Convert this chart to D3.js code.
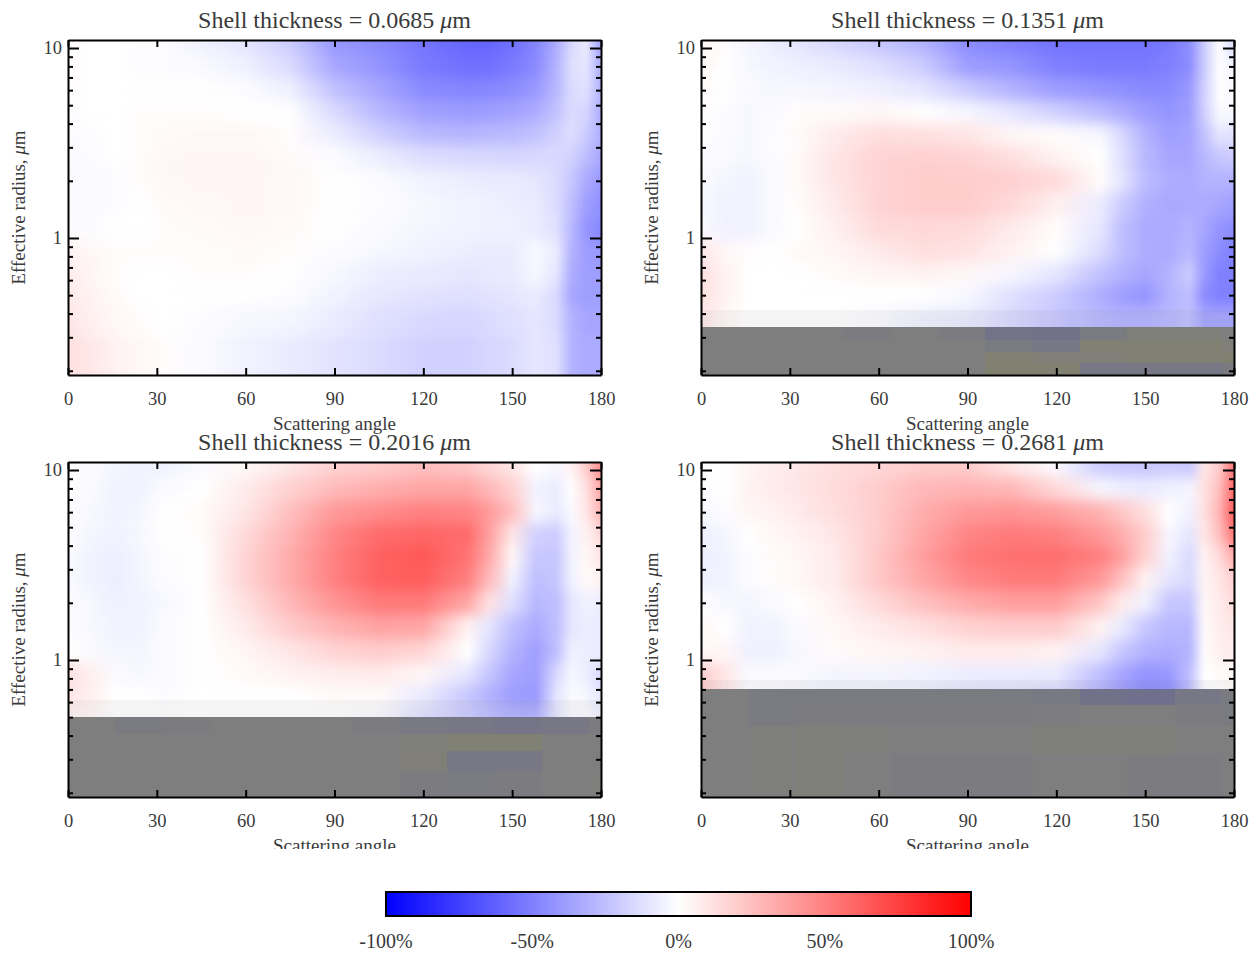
<!DOCTYPE html>
<html lang="en">
<head>
<meta charset="UTF-8">
<title>Shell thickness panels</title>
<style>
    html, body { margin: 0; padding: 0; background: #fff; }
    svg { display: block; }
    text { font-family: "Liberation Serif", serif; fill: #3a3a3a; }
    .axis path, .axis line { stroke: #000; stroke-width: 2px; }
</style>
</head>
<body>
<svg width="1258" height="953"></svg>
<script src="https://d3js.org/d3.v7.min.js"></script>
<script>
// scattering angle of each column, effective radius of each row
const angles = [0, 8, 16, 24, 32, 45, 60, 75, 90, 105, 120, 135, 142, 150, 158, 165, 170, 175, 180];
const radii = [10.5, 8, 6, 4.6, 3.5, 2.7, 2, 1.5, 1.1, 0.85, 0.65, 0.5, 0.38, 0.25];
const thickness = ['0.0685', '0.1351', '0.2016', '0.2681'];

// relative difference, one line per radius
const diff1 = [
    [.02, 0, 0, -.01, -.01, -.05, -.1, -.2, -.4, -.46, -.54, -.6, -.6, -.56, -.48, -.32, -.15, -.08, -.38],
    [.01, 0, 0, -.01, -.01, -.02, -.06, -.14, -.34, -.42, -.52, -.56, -.56, -.52, -.46, -.3, -.12, -.1, -.32],
    [.01, 0, 0, 0, 0, 0, -.01, -.06, -.24, -.35, -.46, -.48, -.47, -.45, -.4, -.28, -.14, -.12, -.3],
    [-.01, 0, 0, .01, .01, .01, 0, 0, -.14, -.28, -.37, -.39, -.38, -.36, -.32, -.24, -.14, -.16, -.32],
    [-.01, -.01, 0, .01, .02, .03, .03, .01, -.07, -.18, -.27, -.29, -.28, -.27, -.24, -.18, -.13, -.2, -.32],
    [-.02, -.01, 0, .01, .03, .04, .04, .02, -.01, -.07, -.13, -.15, -.15, -.16, -.15, -.15, -.18, -.26, -.34],
    [-.02, -.02, -.01, .01, .03, .04, .04, .03, 0, -.01, -.05, -.07, -.08, -.08, -.1, -.14, -.22, -.33, -.4],
    [-.02, -.02, -.01, 0, .02, .03, .04, .03, 0, -.01, -.03, -.05, -.06, -.07, -.08, -.14, -.25, -.38, -.44],
    [-.01, -.01, 0, 0, .01, .02, .03, .02, 0, -.02, -.04, -.05, -.06, -.06, -.08, -.12, -.28, -.42, -.47],
    [.05, .03, .01, .01, .01, .01, .02, .01, -.01, -.03, -.05, -.07, -.08, -.08, -.02, -.08, -.3, -.38, -.4],
    [.07, .04, .01, 0, 0, .01, .01, 0, -.03, -.07, -.08, -.1, -.09, -.08, -.03, -.1, -.32, -.38, -.38],
    [.08, .05, .02, 0, 0, 0, 0, -.01, -.05, -.09, -.11, -.12, -.11, -.1, -.08, -.15, -.35, -.38, -.38],
    [.1, .06, .03, .01, 0, -.01, -.03, -.04, -.08, -.12, -.15, -.16, -.14, -.12, -.1, -.14, -.3, -.35, -.35],
    [.12, .09, .05, .03, .01, -.02, -.05, -.08, -.11, -.14, -.18, -.18, -.16, -.14, -.1, -.12, -.3, -.33, -.33]
];
const diff2 = [
    [.04, .01, -.04, -.07, -.1, -.15, -.22, -.3, -.45, -.5, -.55, -.55, -.55, -.55, -.52, -.45, -.2, 0, -.15],
    [.03, 0, -.03, -.05, -.06, -.08, -.12, -.2, -.38, -.42, -.5, -.52, -.52, -.52, -.5, -.45, -.2, 0, -.05],
    [.02, 0, -.02, -.03, -.03, -.04, -.06, -.1, -.2, -.3, -.38, -.42, -.44, -.46, -.46, -.4, -.18, 0, -.02],
    [.01, -.01, -.03, -.02, .01, .02, .03, 0, -.03, -.1, -.18, -.27, -.32, -.38, -.42, -.38, -.18, -.02, -.03],
    [0, -.02, -.03, -.01, .02, .08, .13, .12, .1, .03, .01, -.03, -.15, -.3, -.38, -.36, -.24, -.1, -.12],
    [-.01, -.02, -.03, -.01, .02, .1, .17, .18, .17, .12, .05, 0, -.12, -.28, -.35, -.35, -.28, -.22, -.2],
    [-.02, -.04, -.05, -.02, .02, .1, .17, .2, .2, .18, .14, .01, -.1, -.26, -.32, -.33, -.3, -.3, -.3],
    [-.03, -.05, -.05, -.02, .01, .08, .17, .2, .2, .15, .06, -.08, -.2, -.31, -.34, -.33, -.33, -.35, -.38],
    [-.02, -.05, -.05, -.02, 0, .06, .14, .15, .14, .08, .01, -.1, -.25, -.33, -.33, -.3, -.35, -.42, -.45],
    [.1, .03, .01, 0, .02, .04, .08, .13, .11, .05, 0, -.14, -.25, -.32, -.33, -.28, -.38, -.45, -.5],
    [.12, .05, 0, 0, 0, .02, .04, .05, .03, -.03, -.1, -.24, -.3, -.35, -.3, -.2, -.4, -.5, -.5],
    [.12, .05, 0, 0, 0, 0, 0, 0, -.03, -.12, -.2, -.32, -.38, -.42, -.3, -.25, -.45, -.5, -.5],
    [.1, .03, 0, 0, 0, 0, -.02, -.06, -.08, -.15, -.22, -.28, -.3, -.3, -.28, -.25, -.35, -.35, -.35]
];
const diff3 = [
    [0, -.02, -.04, -.05, -.05, -.02, .03, .1, .18, .2, .25, .22, .16, .1, 0, -.03, .05, .2, .45],
    [0, -.02, -.05, -.05, -.02, 0, .08, .18, .27, .32, .35, .35, .28, .18, -.05, -.08, 0, .12, .35],
    [-.01, -.03, -.05, -.04, 0, .02, .1, .25, .4, .45, .5, .48, .4, .25, -.03, -.08, -.02, .1, .3],
    [-.01, -.04, -.05, -.03, 0, .01, .15, .3, .47, .58, .6, .58, .38, .1, -.18, -.2, -.05, .05, .15],
    [-.02, -.05, -.07, -.04, -.01, 0, .17, .33, .5, .62, .66, .55, .35, .03, -.22, -.22, -.05, .03, .1],
    [-.02, -.05, -.07, -.04, -.01, 0, .17, .33, .5, .62, .64, .5, .28, -.05, -.25, -.22, -.05, .02, .05],
    [-.01, -.03, -.06, -.05, -.03, 0, .12, .28, .42, .52, .52, .35, .12, -.12, -.28, -.25, -.1, -.05, -.07],
    [-.01, -.03, -.05, -.05, -.02, 0, .08, .2, .3, .36, .35, .05, -.1, -.25, -.33, -.25, -.1, -.07, -.08],
    [0, -.02, -.04, -.04, -.02, 0, .04, .1, .17, .2, .16, 0, -.15, -.3, -.38, -.25, -.06, -.07, -.08],
    [.12, .06, -.02, -.03, -.02, 0, .02, .05, .07, .08, .03, -.1, -.22, -.35, -.38, -.15, -.03, -.07, -.15],
    [.1, .06, 0, 0, -.01, 0, 0, 0, .02, .02, -.08, -.22, -.3, -.38, -.4, -.1, -.02, -.03, -.1],
    [.05, .03, 0, 0, 0, 0, 0, 0, 0, -.02, -.12, -.2, -.25, -.3, -.3, -.1, -.02, -.02, -.05]
];
const diff4 = [
    [0, 0, .04, .07, .09, .13, .16, .2, .2, .1, -.02, -.2, -.22, -.22, -.2, -.22, .1, .2, .55],
    [-.01, 0, .05, .08, .1, .14, .2, .28, .3, .28, .15, -.03, -.06, -.08, -.06, -.04, .12, .25, .6],
    [-.03, -.01, .04, .05, .08, .13, .2, .32, .4, .42, .38, .3, .22, .12, 0, -.05, .12, .3, .65],
    [-.06, -.04, 0, .03, .05, .1, .2, .35, .48, .52, .5, .4, .32, .2, -.03, -.1, .1, .25, .55],
    [-.07, -.05, -.01, .02, .03, .08, .22, .38, .52, .56, .57, .5, .38, .18, -.05, -.15, .05, .15, .32],
    [-.06, -.05, -.01, .01, .03, .08, .22, .35, .47, .52, .52, .4, .25, .05, -.1, -.15, .04, .1, .18],
    [0, -.03, -.04, -.02, 0, .05, .15, .25, .33, .38, .38, .22, .08, -.05, -.22, -.22, .03, .08, .14],
    [.03, 0, -.05, -.05, -.02, .03, .08, .12, .18, .2, .2, .05, -.08, -.22, -.28, -.28, .02, .07, .1],
    [.03, .03, -.06, -.06, -.03, .02, .04, .05, .08, .08, .05, -.1, -.22, -.3, -.32, -.3, .01, .06, .08],
    [.2, .1, -.02, -.02, -.02, -.04, -.04, -.05, -.07, -.07, -.08, -.25, -.35, -.42, -.4, -.25, 0, .02, .03],
    [.2, .1, 0, -.02, -.03, -.05, -.06, -.07, -.1, -.12, -.14, -.3, -.38, -.45, -.45, -.25, 0, 0, 0]
];

// no-data zone below the cut radius: angles of the blocks, radius limits, tint of each block
const grayAngles = [0, 16, 32, 48, 64, 80, 96, 112, 128, 144, 160, 176, 180];
const grayRadii2 = [0.34, 0.29, 0.25, 0.22, 0.19];
const grayTint2 = [
    [0, 0, 0, -.05, 0, -.05, -.3, -.35, -.1, .1, .1, 0],
    [0, 0, 0, 0, 0, 0, -.1, -.2, .3, .3, .3, .2],
    [0, 0, 0, 0, 0, 0, .3, .2, .2, .3, .3, .4],
    [0, 0, 0, 0, 0, 0, .4, .3, -.2, -.2, -.2, -.1]
];
const grayRadii3 = [0.5, 0.41, 0.33, 0.26, 0.19];
const grayTint3 = [
    [0, -.1, -.05, 0, 0, 0, -.05, -.15, -.2, -.25, -.2, -.05],
    [0, 0, 0, 0, 0, 0, 0, .15, .3, .3, 0, 0],
    [0, 0, 0, 0, 0, 0, 0, .2, -.2, -.2, 0, 0],
    [0, 0, 0, 0, 0, 0, 0, -.05, -.1, -.05, 0, .05]
];
const grayRadii4 = [0.7, 0.58, 0.45, 0.32, 0.19];
const grayTint4 = [
    [0, -.1, -.1, -.1, -.1, -.1, -.1, -.15, -.35, -.4, -.2, -.1],
    [0, -.1, -.05, -.05, -.05, -.05, -.05, -.03, 0, 0, -.05, -.1],
    [0, .05, .1, .05, 0, 0, 0, .1, .1, .1, 0, 0],
    [0, .05, .1, 0, -.05, -.05, -.05, 0, 0, -.05, -.05, 0]
];
// radius where the data starts to thin out just above the no-data zone
const fadeRadii = [null, 0.418, 0.616, 0.785];

const angleTicks = [0, 30, 60, 90, 120, 150, 180];
const radiusTicks = [10, 9, 8, 7, 6, 5, 4, 3, 2, 1, 0.9, 0.8, 0.7, 0.6, 0.5, 0.4, 0.3, 0.2];
const barTicks = [-100, -50, 0, 50, 100];

const diffs = [diff1, diff2, diff3, diff4];
const grayRadii = [null, grayRadii2, grayRadii3, grayRadii4];
const grayTints = [null, grayTint2, grayTint3, grayTint4];

const width = 533, height = 335;
const lefts = [68, 701, 68, 701], tops = [40, 40, 462, 462];

const svg = d3.select('svg');
const defs = svg.append('defs');

const xScale = d3.scaleLinear().domain([0, 180]).range([0, width]);
const yScale = d3.scaleLog().domain([0.19, 11.02]).range([height, 0]);
const color = d3.scaleLinear().domain([-1, 0, 1]).range(['#0000ff', '#ffffff', '#ff0000']);
const grayColor = d3.scaleLinear().domain([-1, 0, 1]).range(['#5a5aa0', '#7e7e7e', '#84845a']);

defs.append('filter').attr('id', 'smooth')
    .attr('filterUnits', 'userSpaceOnUse')
    .attr('x', -30).attr('y', -60).attr('width', width + 60).attr('height', height + 120)
    .attr('color-interpolation-filters', 'sRGB')
    .append('feGaussianBlur').attr('stdDeviation', '2 7');

defs.append('clipPath').attr('id', 'plot-clip')
    .append('rect').attr('width', width).attr('height', height);
defs.append('clipPath').attr('id', 'page-clip')
    .append('rect').attr('width', 1258).attr('height', 849);

const chart = svg.append('g').attr('clip-path', 'url(#page-clip)');

diffs.forEach((grid, p) => {
    const g = chart.append('g').attr('transform', `translate(${lefts[p]},${tops[p]})`);
    const plot = g.append('g').attr('clip-path', 'url(#plot-clip)');
    const heat = plot.append('g').attr('filter', 'url(#smooth)');

    // each radius is a band, shaded along the angle axis
    grid.forEach((row, i) => {
        const id = `band-${p}-${i}`;
        const grad = defs.append('linearGradient').attr('id', id)
            .attr('gradientUnits', 'userSpaceOnUse')
            .attr('x1', xScale(0)).attr('x2', xScale(180)).attr('y1', 0).attr('y2', 0);
        row.forEach((v, j) => {
            grad.append('stop')
                .attr('offset', xScale(angles[j]) / width)
                .attr('stop-color', color(v));
        });
        const y0 = i === 0 ? -50 : (yScale(radii[i - 1]) + yScale(radii[i])) / 2;
        const y1 = i === grid.length - 1 ? height + 50 : (yScale(radii[i]) + yScale(radii[i + 1])) / 2;
        heat.append('rect')
            .attr('x', -20).attr('y', y0)
            .attr('width', width + 40).attr('height', y1 - y0 + 0.5)
            .attr('fill', `url(#${id})`);
    });

    // no-data zone
    if (grayTints[p]) {
        plot.append('rect')
            .attr('x', 0).attr('width', width)
            .attr('y', yScale(fadeRadii[p]))
            .attr('height', yScale(grayRadii[p][0]) - yScale(fadeRadii[p]))
            .attr('fill', '#7e7e7e').attr('opacity', 0.08);
        grayTints[p].forEach((row, i) => {
            row.forEach((v, j) => {
                plot.append('rect')
                    .attr('x', xScale(grayAngles[j]))
                    .attr('y', yScale(grayRadii[p][i]))
                    .attr('width', xScale(grayAngles[j + 1]) - xScale(grayAngles[j]) + 0.5)
                    .attr('height', yScale(grayRadii[p][i + 1]) - yScale(grayRadii[p][i]) + 0.5)
                    .attr('shape-rendering', 'crispEdges')
                    .attr('fill', grayColor(v));
            });
        });
    }

    // axes on all four sides, ticks pointing in
    g.append('g').attr('class', 'axis').attr('transform', `translate(0,${height})`)
        .call(d3.axisBottom(xScale).tickValues(angleTicks).tickSizeInner(-7).tickSizeOuter(0).tickPadding(17))
        .call(a => a.selectAll('text').style('font-size', '18.5px').style('font-family', null));
    g.append('g').attr('class', 'axis')
        .call(d3.axisTop(xScale).tickValues(angleTicks).tickSizeInner(-7).tickSizeOuter(0).tickFormat(''));

    const major = d => d === 10 || d === 1;
    g.append('g').attr('class', 'axis')
        .call(d3.axisLeft(yScale).tickValues(radiusTicks).tickSizeOuter(0).tickSizeInner(0).tickPadding(6)
            .tickFormat(d => major(d) ? d : ''))
        .call(a => a.selectAll('.tick line').attr('x2', d => major(d) ? 11 : 5))
        .call(a => a.selectAll('text').style('font-size', '18.5px'));
    g.append('g').attr('class', 'axis').attr('transform', `translate(${width},0)`)
        .call(d3.axisRight(yScale).tickValues(radiusTicks).tickSizeOuter(0).tickSizeInner(0).tickFormat(''))
        .call(a => a.selectAll('.tick line').attr('x2', d => major(d) ? -11 : -5));

    g.selectAll('.axis text').attr('fill', null);

    g.append('text')
        .attr('x', width / 2).attr('y', height + 55)
        .attr('text-anchor', 'middle').style('font-size', '19px')
        .text('Scattering angle');

    const yLabel = g.append('text')
        .attr('transform', `translate(-43,${height / 2}) rotate(-90)`)
        .attr('text-anchor', 'middle').style('font-size', '19px');
    yLabel.append('tspan').text('Effective radius, ');
    yLabel.append('tspan').style('font-style', 'italic').text('\u03bc');
    yLabel.append('tspan').text('m');

    const title = g.append('text')
        .attr('x', width / 2).attr('y', -12)
        .attr('text-anchor', 'middle').style('font-size', '24px');
    title.append('tspan').text(`Shell thickness = ${thickness[p]} `);
    title.append('tspan').style('font-style', 'italic').text('\u03bc');
    title.append('tspan').text('m');
});

// colour bar
const barX = d3.scaleLinear().domain([-100, 100]).range([386, 971]);
const barGrad = defs.append('linearGradient').attr('id', 'bar-grad');
barTicks.forEach(t => {
    barGrad.append('stop')
        .attr('offset', (barX(t) - barX(-100)) / (barX(100) - barX(-100)))
        .attr('stop-color', color(t / 100));
});
svg.append('rect')
    .attr('x', barX(-100)).attr('y', 892)
    .attr('width', barX(100) - barX(-100)).attr('height', 24)
    .attr('fill', 'url(#bar-grad)')
    .attr('stroke', '#000').attr('stroke-width', 2);
svg.selectAll('.bar-label')
    .data(barTicks)
    .enter().append('text')
    .attr('class', 'bar-label')
    .attr('x', d => barX(d))
    .attr('y', 948)
    .attr('text-anchor', 'middle')
    .style('font-size', '20px')
    .text(d => d + '%');
</script>
</body>
</html>
